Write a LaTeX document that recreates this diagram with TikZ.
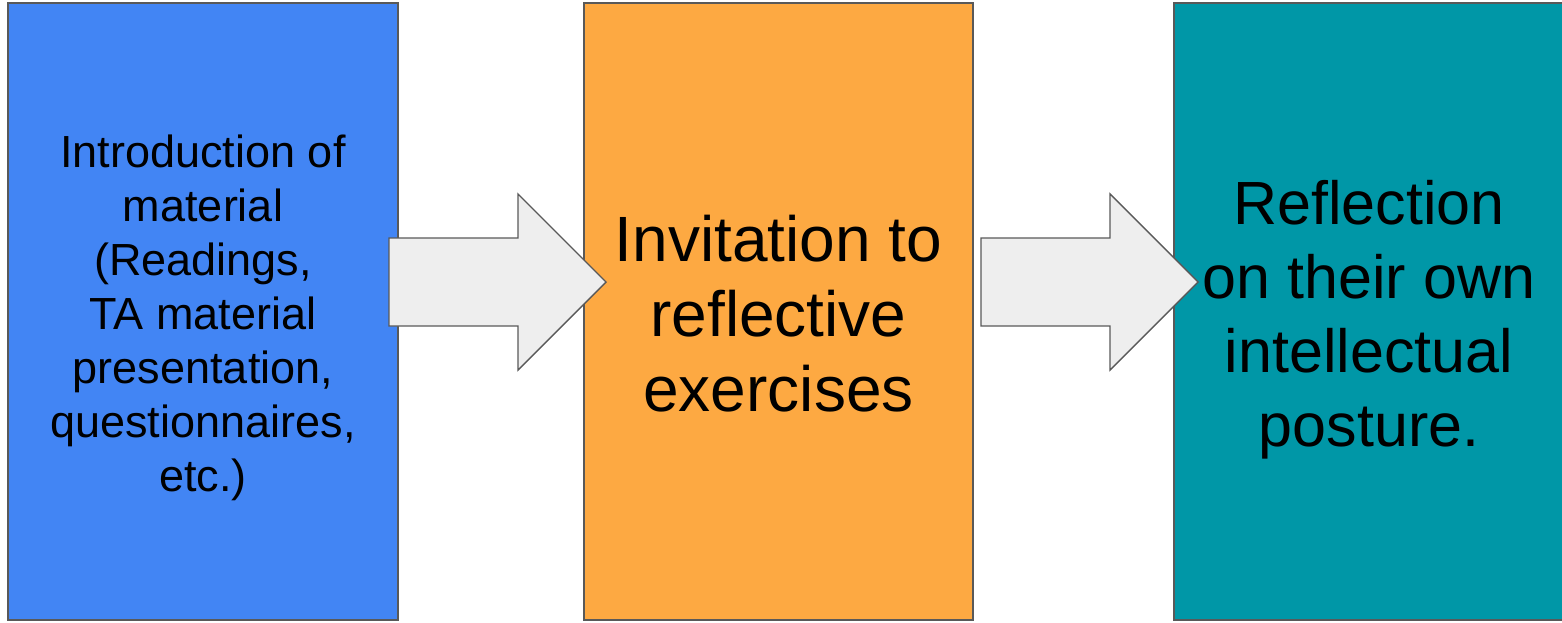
\documentclass[tikz,border=0pt]{standalone}
\usepackage{fontspec}
\setmainfont{Liberation Sans}
\definecolor{boxblue}{HTML}{4285F4}
\definecolor{boxorange}{HTML}{FDA942}
\definecolor{boxteal}{HTML}{0097A7}
\definecolor{edgegray}{HTML}{595959}
\definecolor{arrowfill}{HTML}{EEEEEE}
\begin{document}
\begin{tikzpicture}[x=1pt,y=-1pt,
  stagebox/.style={draw=edgegray, line width=1.4pt, minimum height=617pt, inner sep=0pt},
  stagetext/.style={align=center, text=black, inner sep=0pt},
  blockarrow/.style={draw=edgegray, fill=arrowfill, line width=1.4pt, line join=miter}]
\useasboundingbox (0,0) rectangle (1562,622);
\node[stagebox, fill=boxblue, minimum width=390pt] (intro) at (203,311.5) {};
\node[stagebox, fill=boxorange, minimum width=389pt] (invite) at (778.5,311.5) {};
\node[stagebox, fill=boxteal, minimum width=393pt] (reflect) at (1370.5,311.5) {};
\node[stagetext, font=\fontsize{45}{54}\selectfont] (introtext) at (203,317.5)
  {Introduction of\\material\\(Readings,\\TA material\\presentation,\\questionnaires,\\etc.)};
\node[stagetext, font=\fontsize{64}{75}\selectfont] (invitetext) at (778.5,313.5)
  {Invitation to\\reflective\\exercises};
\node[stagetext, font=\fontsize{61}{74}\selectfont] (reflecttext) at (1369,319.5)
  {Reflection\\on their own\\intellectual\\posture.};
\draw[blockarrow] (389,238) -- (518,238) -- (518,194) -- (606,282) -- (518,370) -- (518,326) -- (389,326) -- cycle;
\draw[blockarrow] (981,238) -- (1110,238) -- (1110,194) -- (1198,282) -- (1110,370) -- (1110,326) -- (981,326) -- cycle;
\end{tikzpicture}
\end{document}
